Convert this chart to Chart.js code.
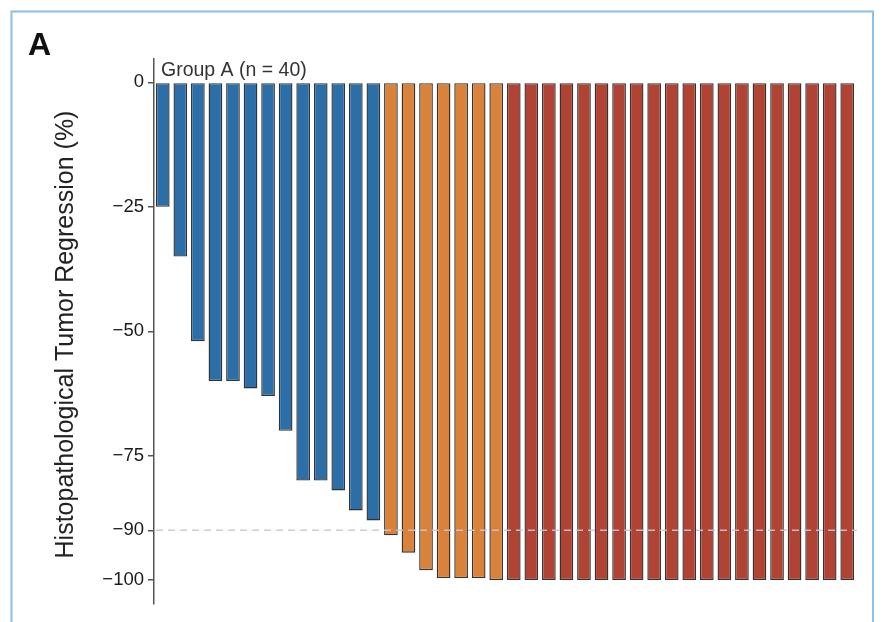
<!DOCTYPE html>
<html>
<head>
<meta charset="utf-8">
<script src="https://cdn.jsdelivr.net/npm/chart.js@4.4.1/dist/chart.umd.min.js"></script>
<style>
  html, body { margin: 0; padding: 0; background: #ffffff; }
  #wrap { width: 889px; height: 622px; position: relative; }
</style>
</head>
<body>
<div id="wrap"><canvas id="c" width="889" height="622"></canvas></div>
<script>
// ---- Data ----
const categories = ['1','2','3','4','5','6','7','8','9','10','11','12','13','14','15','16','17','18','19','20',
                    '21','22','23','24','25','26','27','28','29','30','31','32','33','34','35','36','37','38','39','40'];
const blueValues   = [-25, -35, -52, -60, -60, -61.5, -63, -70, -80, -80, -82, -86, -88];
const orangeValues = [-91, -94.5, -98, -99.6, -99.6, -99.6, -100];
const redValues    = [-100, -100, -100, -100, -100, -100, -100, -100, -100, -100,
                      -100, -100, -100, -100, -100, -100, -100, -100, -100, -100];
const tickValues   = [0, -25, -50, -75, -90, -100];
const thresholdValue = -90;
const panelLabel = 'A';
const groupLabel = 'Group A (n = 40)';
const yTitle = 'Histopathological Tumor Regression (%)';

// Place each group in its own slots (nulls elsewhere)
const nB = blueValues.length, nO = orangeValues.length, nR = redValues.length;
const blueData   = blueValues.concat(new Array(nO + nR).fill(null));
const orangeData = new Array(nB).fill(null).concat(orangeValues, new Array(nR).fill(null));
const redData    = new Array(nB + nO).fill(null).concat(redValues);

const FONT = "'Liberation Sans', Arial, Helvetica, sans-serif";

const decorPlugin = {
  id: 'decor',
  beforeDraw(chart) {
    const ctx = chart.ctx;
    ctx.save();
    ctx.fillStyle = '#ffffff';
    ctx.fillRect(0, 0, chart.width, chart.height);
    ctx.restore();
  },
  afterDatasetsDraw(chart) {
    const ctx = chart.ctx;
    const area = chart.chartArea;
    const y = chart.scales.y.getPixelForValue(thresholdValue);
    ctx.save();
    ctx.strokeStyle = 'rgba(200,200,205,0.9)';
    ctx.lineWidth = 1.5;
    ctx.setLineDash([7, 5]);
    ctx.beginPath();
    ctx.moveTo(area.left + 2, y);
    ctx.lineTo(area.right + 1, y);
    ctx.stroke();
    ctx.restore();
  },
  afterDraw(chart) {
    const ctx = chart.ctx;
    const area = chart.chartArea;
    ctx.save();
    // Frame
    ctx.strokeStyle = '#8ac2e2';
    ctx.lineWidth = 2;
    ctx.strokeRect(11.5, 11.5, 861.5, 640);
    // Panel label
    ctx.fillStyle = '#111111';
    ctx.font = 'bold 32px ' + FONT;
    ctx.textAlign = 'left';
    ctx.textBaseline = 'alphabetic';
    ctx.fillText(panelLabel, 28, 55);
    // Group label
    ctx.fillStyle = '#333333';
    ctx.font = '19.5px ' + FONT;
    ctx.fillText(groupLabel, area.left + 7, 76);
    // Y axis title
    ctx.translate(73, (area.top + area.bottom) / 2 + 3);
    ctx.rotate(-Math.PI / 2);
    ctx.textAlign = 'center';
    ctx.fillStyle = '#222222';
    ctx.font = '25px ' + FONT;
    ctx.fillText(yTitle, 0, 0);
    ctx.restore();
  }
};

const barCommon = {
  borderColor: '#333333',
  borderWidth: 1.4,
  borderSkipped: false,
  grouped: false,
  categoryPercentage: 1.0,
  barPercentage: 0.78
};

new Chart(document.getElementById('c'), {
  type: 'bar',
  data: {
    labels: categories,
    datasets: [
      Object.assign({ label: 'Blue',   data: blueData,   backgroundColor: '#2c6ea8' }, barCommon),
      Object.assign({ label: 'Orange', data: orangeData, backgroundColor: '#db823a' }, barCommon),
      Object.assign({ label: 'Red',    data: redData,    backgroundColor: '#b04333' }, barCommon)
    ]
  },
  options: {
    responsive: false,
    animation: false,
    devicePixelRatio: 1,
    layout: { padding: { left: 0, right: 33, top: 59, bottom: 18 } },
    plugins: {
      legend: { display: false },
      tooltip: { enabled: false },
      title: { display: false }
    },
    scales: {
      x: {
        display: false,
        offset: true,
        grid: { display: false }
      },
      y: {
        min: -104.8,
        max: 4.7,
        afterFit(scale) { scale.width = 154; },
        afterBuildTicks(scale) { scale.ticks = tickValues.map(v => ({ value: v })); },
        border: { display: true, color: '#555555', width: 1.5 },
        grid: {
          display: true,
          drawOnChartArea: false,
          drawTicks: true,
          tickLength: 6,
          color: '#555555',
          lineWidth: 1.5
        },
        ticks: {
          padding: 4,
          color: '#1a1a1a',
          font: { family: FONT, size: 18.5 },
          callback: (v) => (v < 0 ? '\u2212' + Math.abs(v) : String(v))
        }
      }
    }
  },
  plugins: [decorPlugin]
});
</script>
</body>
</html>
